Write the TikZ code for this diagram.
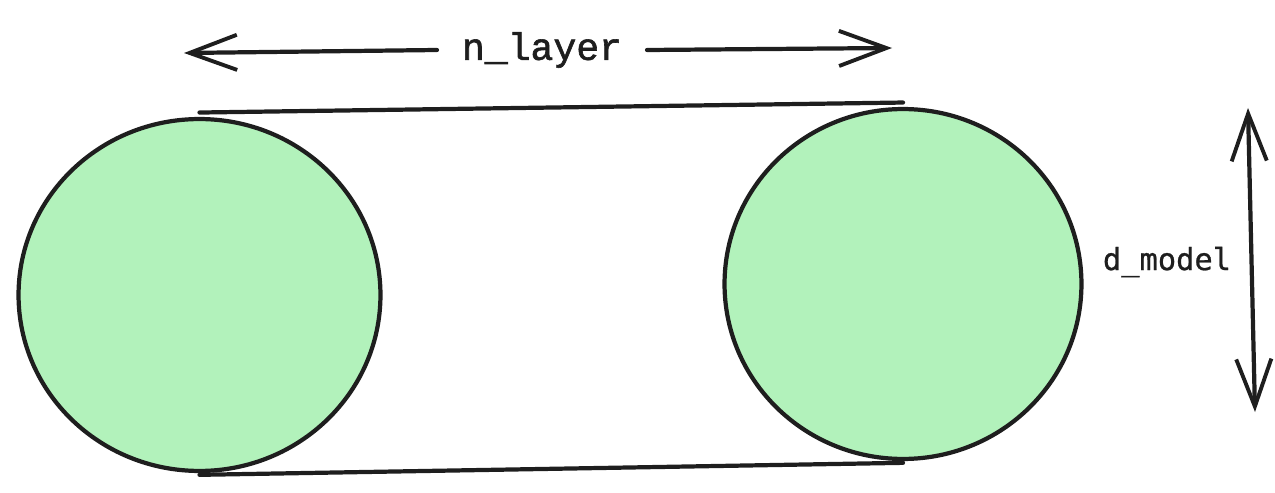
\documentclass[tikz,border=0pt]{standalone}
\usepackage{fontspec}
\usetikzlibrary{shapes.geometric,arrows.meta}
\newfontfamily\nlfont{Liberation Mono}[FakeBold=1.6]
\newfontfamily\dmfont{DejaVu Sans Mono}[FakeBold=0.8]
\definecolor{ink}{HTML}{1E1E1E}
\definecolor{leaf}{HTML}{B2F2BB}
\tikzset{
  layerdisc/.style={ellipse, draw=ink, fill=leaf, line width=2.4pt},
  barb/.tip={Straight Barb[length=27pt,width=20pt,line width=2.2pt]},
  sketchline/.style={draw=ink, line width=2.4pt, line cap=round}
}
\begin{document}
\begin{tikzpicture}[x=0.02cm, y=-0.02cm]
                      \useasboundingbox (0,0) rectangle (1275,493);
                      \node[layerdisc, minimum width=7.24cm, minimum height=7.04cm] (first) at (199.5,295) {};
                      \node[layerdisc, minimum width=7.14cm, minimum height=7.0cm] (last) at (903,284) {};
                      \draw[sketchline] ([yshift=2.5pt]first.north) -- ([yshift=2.5pt]last.north);
                      \draw[sketchline] ([yshift=-1pt]first.south) -- ([yshift=-1pt]last.south);

                      \node[font={\nlfont\fontsize{21.7pt}{24pt}\selectfont}, text=ink, inner sep=14pt] (nlayer) at (542,50) {n\_layer};
                      \coordinate (nleft) at (184,53);
                      \coordinate (nright) at (892,48);
                      \draw[sketchline, -barb] (nlayer.west) -- (nleft);
                      \draw[sketchline, -barb] (nlayer.east) -- (nright);

                      \node[font={\dmfont\fontsize{17.3pt}{20pt}\selectfont}, text=ink] (dmodel) at (1167,262) {d\_model};
                      \coordinate (dtop) at (1248,108);
                      \coordinate (dbot) at (1255,412);
                      \draw[sketchline, barb-barb] (dtop) -- (dbot);
                  \end{tikzpicture}
\end{document}
